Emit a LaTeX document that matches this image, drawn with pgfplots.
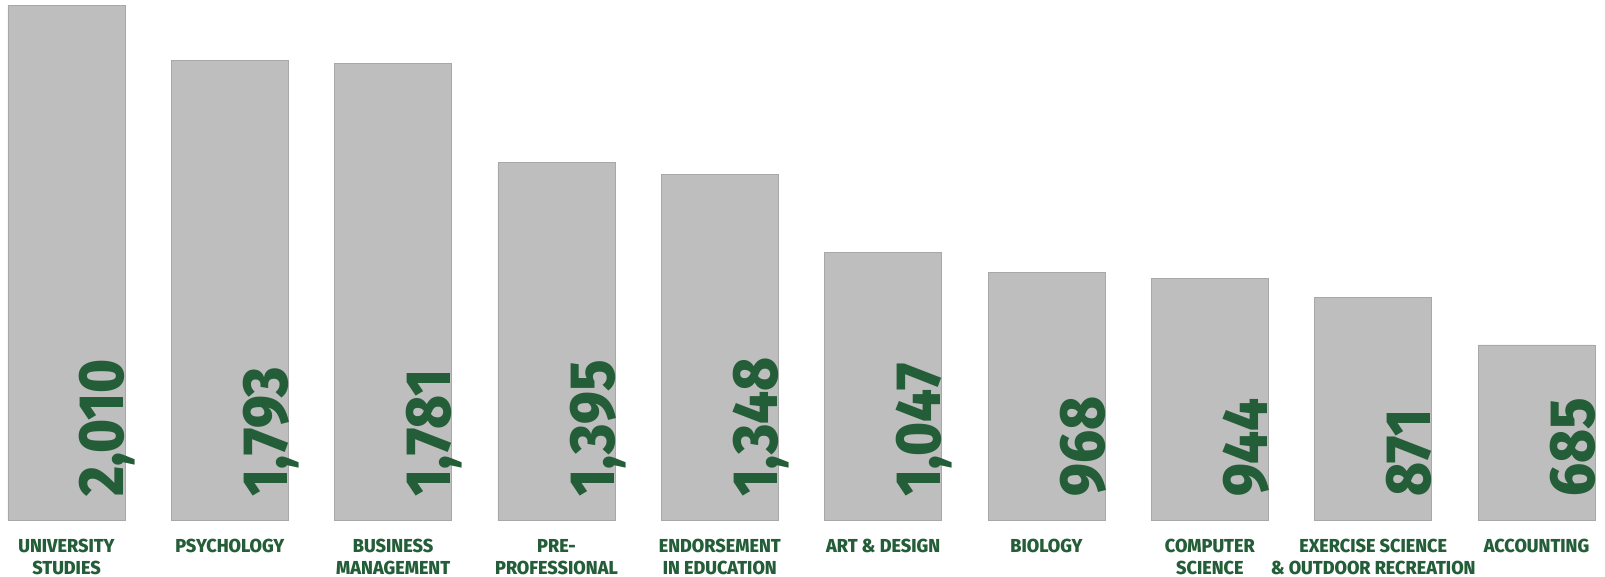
\documentclass[border=0pt]{standalone}
\usepackage{fontspec}
\setmainfont{Fira Sans}[FakeStretch=0.9, BoldFont={Fira Sans ExtraBold}]
\newfontfamily\labfont{Fira Sans}[FakeStretch=0.96, BoldFont={Fira Sans ExtraBold}]
\usepackage{pgfplots}
\pgfplotsset{compat=1.18}
\usepackage{pgfplotstable}

\definecolor{grn}{HTML}{245E38}
\definecolor{barfill}{HTML}{BEBEBE}
\definecolor{baredge}{HTML}{A8A8A8}

% enrolment by major
\pgfplotstableread{
x y z
0 2010 0
1 1793 0
2 1781 0
3 1395 0
4 1348 0
5 1047 0
6 968 0
7 944 0
8 871 0
9 685 0
}\majors

\begin{document}
\begin{tikzpicture}
\begin{axis}[
    scale only axis,
    width=802.5pt, height=260.35pt,
    xmin=-0.4071, xmax=9.4194,
    ymin=0, ymax=2029.5,
    clip=false,
    axis x line*=bottom, axis y line=none,
    x axis line style={draw=none},
    xtick={0,...,9}, xtick style={draw=none}, ytick=\empty,
    xticklabels={{UNIVERSITY\\STUDIES},{PSYCHOLOGY},{BUSINESS\\MANAGEMENT},{PRE-\\PROFESSIONAL},{ENDORSEMENT\\IN EDUCATION},{ART \& DESIGN},{BIOLOGY},{COMPUTER\\SCIENCE},{EXERCISE SCIENCE\\\& OUTDOOR RECREATION},{ACCOUNTING}},
    xticklabel style={align=center, anchor=north, inner sep=0pt, yshift=-9.15pt, text=grn,
        font=\labfont\fontsize{9.4}{11}\selectfont\bfseries},
]
\path (axis cs:-0.4071,-219.4) rectangle (axis cs:9.4194,2029.5);
\addplot[ybar, bar width=58.5pt, fill=barfill, draw=baredge, line width=0.4pt]
    table[x=x, y=y] {\majors};
\addplot[draw=none, mark=none, nodes near coords, point meta=explicit,
    every node near coord/.style={xshift=28.75pt, yshift=11.8pt, rotate=90,
        anchor=base west, inner sep=0pt, text=grn,
        font=\fontsize{32}{32}\selectfont\bfseries},
    /pgf/number format/.cd, 1000 sep={,}, assume math mode=true]
    table[x=x, y=z, meta=y] {\majors};
\end{axis}
\end{tikzpicture}
\end{document}
